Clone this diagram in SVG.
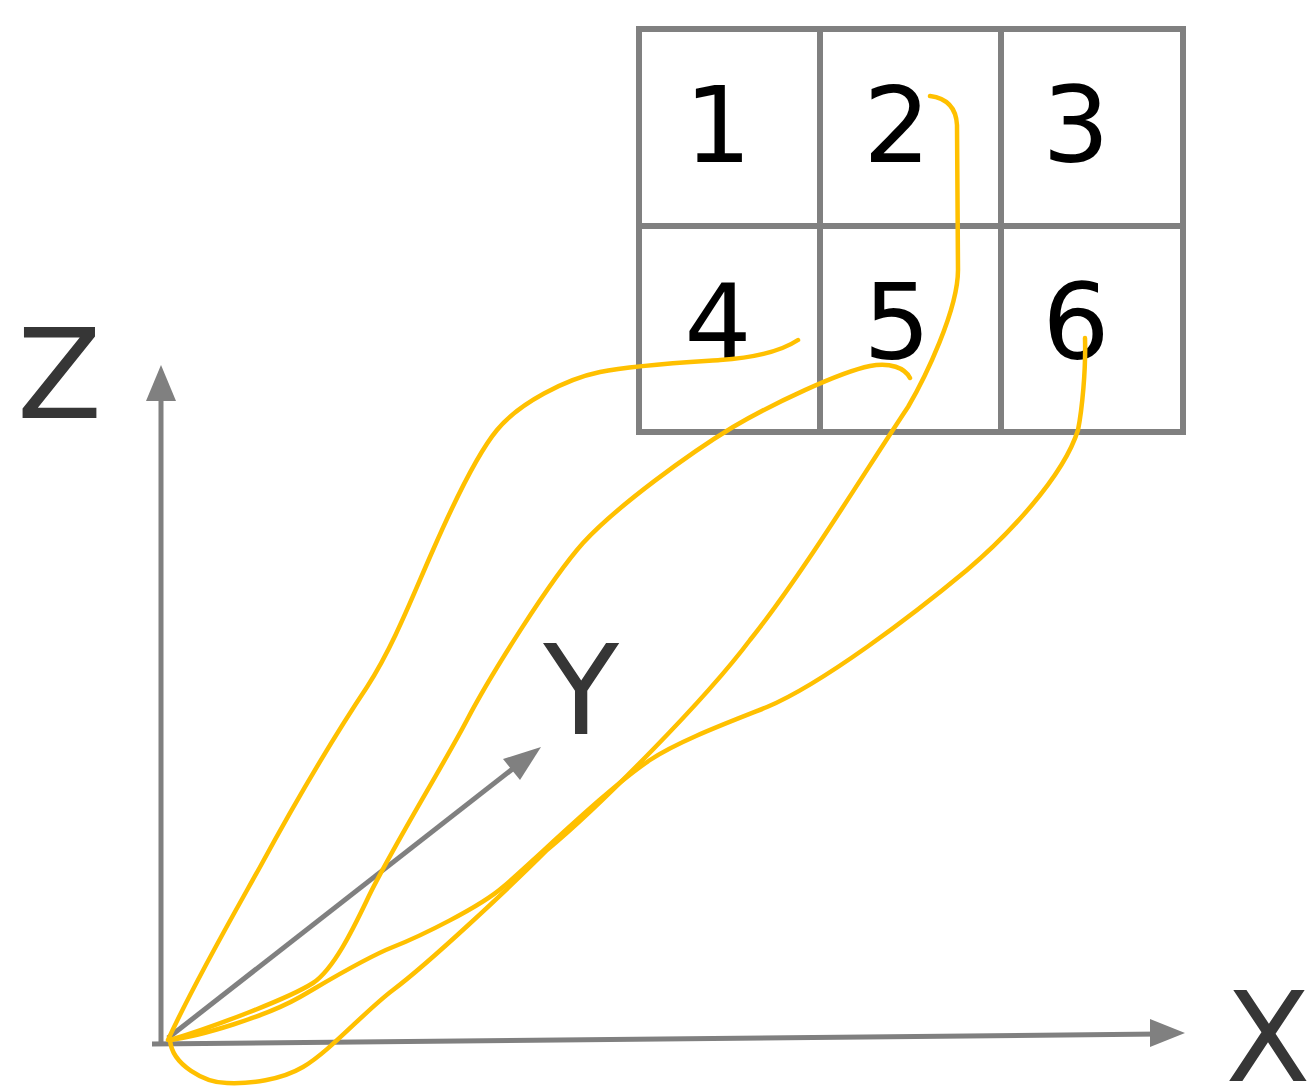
<svg xmlns="http://www.w3.org/2000/svg" width="1315" height="1088" viewBox="0 0 1315 1088">
<style>
.grid{fill:none;stroke:#808080;stroke-width:6}
.axis{fill:none;stroke:#808080;stroke-width:5}
.head{fill:#808080}
.lbl{font-family:"DejaVu Sans",sans-serif;font-size:124px;fill:#363636}
.num{font-family:"DejaVu Sans",sans-serif;font-size:106px;fill:#000;text-anchor:middle}
.curve{fill:none;stroke:#FFC000;stroke-width:4.5;stroke-linecap:round;stroke-linejoin:round}
</style>
<rect width="1315" height="1088" fill="#fff"/>
<g id="axes">
  <line class="axis" x1="161" y1="1043" x2="161" y2="395"/>
  <polygon class="head" points="161,365 146,401 176,401"/>
  <line class="axis" x1="152" y1="1044" x2="1160" y2="1034"/>
  <polygon class="head" points="1185,1033 1150,1019 1150,1047"/>
  <line class="axis" x1="168" y1="1038" x2="515" y2="767" stroke-width="4"/>
  <polygon class="head" points="541,747 520,780 503,759"/>
  <text class="lbl" x="17" y="418">Z</text>
  <text class="lbl" x="581" y="734" text-anchor="middle">Y</text>
  <text class="lbl" x="1268" y="1081" text-anchor="middle">X</text>
</g>
<g id="grid">
  <rect class="grid" x="639" y="29" width="544" height="403"/>
  <line class="grid" x1="820" y1="29" x2="820" y2="432"/>
  <line class="grid" x1="1001" y1="29" x2="1001" y2="432"/>
  <line class="grid" x1="639" y1="226" x2="1183" y2="226"/>
</g>
<g id="cell1"><text class="num" x="718" y="162">1</text></g>
<g id="cell2"><text class="num" x="897" y="162">2</text></g>
<g id="cell3"><text class="num" x="1076" y="162">3</text></g>
<g id="cell4"><text class="num" x="718" y="359">4</text></g>
<g id="cell5"><text class="num" x="897" y="359">5</text></g>
<g id="cell6"><text class="num" x="1076" y="359">6</text></g>
<g id="connectors">
  <path class="curve" d="M168,1040 C193,985 231,919 260,867 C291,810 331,741 367,687 C394,645 413,595 433,550 C451,509 478,453 497,430 C519,403 566,379 600,372 C634,365 690,362 720,360 C750,358 780,352 798,340"/>
  <path class="curve" d="M170,1040 C210,1028 288,999 313,983 C334,969 354,927 367,900 C388,855 444,764 467,720 C490,676 550,580 583,543 C617,506 690,453 733,427 C772,404 840,372 870,366 C890,362 905,368 910,378"/>
  <path class="curve" d="M930,96 C945,98 956,106 957,125 L958,270 C958,310 925,378 908,407 C864,473 800,578 750,640 C705,700 600,806 547,850 C508,889 429,963 393,990 C365,1011 329,1052 303,1067 C281,1080 250,1084 227,1083 C205,1083 172,1065 170,1040"/>
  <path class="curve" d="M1085,338 C1086,370 1082,410 1078,430 C1063,478 1005,538 967,570 C913,615 822,684 767,707 C735,720 680,740 650,760 C608,788 537,858 503,887 C480,907 421,936 393,947 C365,958 326,982 300,997 C265,1017 200,1036 170,1040"/>
</g>
</svg>
